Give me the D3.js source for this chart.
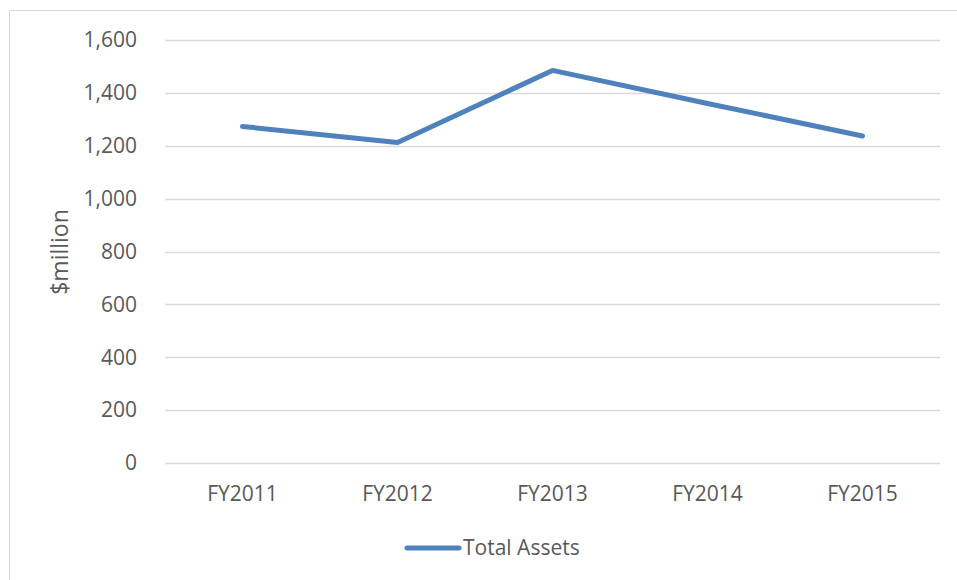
<!DOCTYPE html>
<meta charset="utf-8">
<style>
  body { margin: 0; background: #fff; }
  text { font-family: "Open Sans", sans-serif; fill: #595959; }
</style>
<body>
<script src="https://cdn.jsdelivr.net/npm/d3@7/dist/d3.min.js"></script>
<script>

    var years = ["FY2011", "FY2012", "FY2013", "FY2014", "FY2015"];
    var totalAssets = [1273, 1212, 1485, 1360, 1237];
    var yTicks = [0, 200, 400, 600, 800, 1000, 1200, 1400, 1600];

    var width = 957,
        height = 580;

    var svg = d3.select("body").append("svg")
            .attr("width", width)
            .attr("height", height);

    // chart frame
    svg.append("rect")
            .attr("x", 9.5).attr("y", 10.5)
            .attr("width", 960).attr("height", 600)
            .attr("fill", "none")
            .attr("stroke", "#d9d9d9");

    var x = d3.scaleBand().domain(years).range([165, 940]);
    var y = d3.scaleLinear().domain([0, 1600]).range([463, 40]);

    // gridlines
    svg.append("g").selectAll("line")
            .data(yTicks)
            .enter().append("line")
            .attr("x1", 165).attr("x2", 940)
            .attr("y1", function(d) { return Math.round(y(d)) + 0.5; })
            .attr("y2", function(d) { return Math.round(y(d)) + 0.5; })
            .attr("stroke", "#d9d9d9")
            .attr("stroke-width", 1.3);

    // y tick labels
    var fmt = d3.format(",");
    svg.append("g").selectAll("text")
            .data(yTicks)
            .enter().append("text")
            .attr("x", 137)
            .attr("y", function(d) { return y(d); })
            .attr("dy", "0.35em")
            .attr("text-anchor", "end")
            .style("font-size", "21px")
            .text(fmt);

    // x labels
    svg.append("g").selectAll("text")
            .data(years)
            .enter().append("text")
            .attr("x", function(d) { return x(d) + x.bandwidth() / 2; })
            .attr("y", 494)
            .attr("dy", "0.35em")
            .attr("text-anchor", "middle")
            .style("font-size", "21px")
            .text(function(d) { return d; });

    // axis title
    svg.append("text")
            .attr("transform", "translate(60,252) rotate(-90)")
            .attr("text-anchor", "middle")
            .attr("dy", "0.35em")
            .style("font-size", "23px")
            .text("$million");

    var line = d3.line()
            .x(function(d, i) { return x(years[i]) + x.bandwidth() / 2; })
            .y(function(d) { return y(d); });

    svg.append("path")
            .datum(totalAssets)
            .attr("d", line)
            .attr("fill", "none")
            .attr("stroke", "#4f81bd")
            .attr("stroke-width", 5)
            .attr("stroke-linecap", "round")
            .attr("stroke-linejoin", "round");

    // legend
    svg.append("line")
            .attr("x1", 407).attr("x2", 459)
            .attr("y1", 548).attr("y2", 548)
            .attr("stroke", "#4f81bd")
            .attr("stroke-width", 5)
            .attr("stroke-linecap", "round");

    svg.append("text")
            .attr("x", 463)
            .attr("y", 548)
            .attr("dy", "0.35em")
            .style("font-size", "21px")
            .text("Total Assets");

</script>
